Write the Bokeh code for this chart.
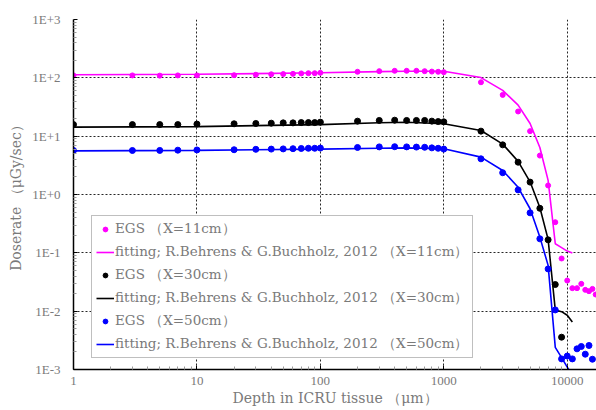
from bokeh.plotting import figure
from bokeh.models import FixedTicker, CustomJSTickFormatter, Legend, LegendItem, Range1d
from bokeh.embed import file_html
from bokeh.resources import INLINE

# ---------------- data ----------------
depth_plateau = [1, 3, 5, 7, 10, 20, 30, 40, 50, 60, 70, 80, 90, 100,
                 200, 300, 400, 500, 600, 700, 800, 900, 1000]

# EGS, X = 11 cm
egs11_x = depth_plateau + [2000, 3000, 4000, 5000, 6000, 7000, 8000, 9000, 10000,
                           11000, 12000, 13000, 14000, 15000, 16000, 17000]
egs11_y = [110, 110, 109, 110, 110, 111, 113, 115, 116, 117, 119, 120, 120, 122,
           127, 130, 132, 132, 132, 130, 128, 127, 125,
           84, 51, 26.5, 12.2, 4.65, 1.43, 0.335, 0.080, 0.0335,
           0.0248, 0.0248, 0.0294, 0.0232, 0.022, 0.0241, 0.0193]

# EGS, X = 30 cm
egs30_x = depth_plateau + [2000, 3000, 4000, 5000, 6000, 7000, 8000, 9000]
egs30_y = [15.8, 15.8, 15.8, 15.8, 16.1, 16.3, 16.5, 16.7, 16.9, 16.9, 17.1, 17.1, 17.1, 17.4,
           18.1, 18.6, 18.8, 18.6, 18.6, 18.6, 18.1, 17.8, 17.6,
           12.2, 7.1, 3.58, 1.63, 0.58, 0.167, 0.0286, 0.00358]

# EGS, X = 50 cm
egs50_x = depth_plateau + [2000, 3000, 4000, 5000, 6000, 7000, 8000, 9000, 10000,
                           11000, 12000, 13000, 14000, 15000, 16000]
egs50_y = [5.68, 5.68, 5.7, 5.75, 5.8, 5.85, 5.95, 6.0, 6.05, 6.1, 6.15, 6.2, 6.2, 6.25,
           6.4, 6.55, 6.6, 6.55, 6.5, 6.45, 6.3, 6.2, 6.0,
           4.09, 2.36, 1.2, 0.485, 0.174, 0.053, 0.0105, 0.00152, 0.0017,
           0.00152, 0.00226, 0.00248, 0.00183, 0.00258, 0.0015]

# fitting curves (R.Behrens & G.Buchholz, 2012)
fit_x = [1, 10, 100, 300, 500, 1000, 2000, 3000, 4000, 5000, 6000, 7000, 8000, 9000, 10000, 11000]
fit11_y = [113, 115, 122, 128, 130, 130, 101, 61, 34, 16.5, 6.4, 1.75, 0.143, 0.123, 0.107, 0.099]
fit30_y = [14.3, 14.6, 15.8, 17.0, 17.3, 16.3, 12.5, 7.3, 3.7, 1.65, 0.6, 0.17, 0.0105, 0.0098, 0.0085, 0.0065]
fit50_y = [5.6, 5.7, 6.0, 6.2, 6.3, 6.07, 4.37, 2.58, 1.33, 0.57, 0.186, 0.061, 0.0024, 0.0016, 0.0011, 0.0008]

x_ticks = [1, 10, 100, 1000, 10000]
y_ticks = [1e-3, 1e-2, 1e-1, 1e0, 1e1, 1e2, 1e3]

labels = ["EGS \uff08X=11cm\uff09",
          "fitting; R.Behrens & G.Buchholz, 2012 \uff08X=11cm\uff09",
          "EGS \uff08X=30cm\uff09",
          "fitting; R.Behrens & G.Buchholz, 2012 \uff08X=30cm\uff09",
          "EGS \uff08X=50cm\uff09",
          "fitting; R.Behrens & G.Buchholz, 2012 \uff08X=50cm\uff09"]

MAG, BLK, BLU = "#ff00ff", "#000000", "#0000ff"
TICK_FONT = "Liberation Serif"
FONT = "DejaVu Serif"
TXT = "#7a7a7a"

# ---------------- figure ----------------
p = figure(width=596, height=410, x_axis_type="log", y_axis_type="log",
           x_range=Range1d(1, 17260), y_range=Range1d(1e-3, 1e3),
           output_backend="svg", toolbar_location=None,
           min_border_left=73, min_border_top=19, min_border_right=0, min_border_bottom=41)
p.outline_line_color = None
p.background_fill_color = "white"

x_minor = [m * d for d in [1, 10, 100, 1000, 10000] for m in range(2, 10)]
y_minor = [m * d for d in [1e-3, 1e-2, 1e-1, 1, 10, 100] for m in range(2, 10)]
p.xaxis.ticker = FixedTicker(ticks=x_ticks, minor_ticks=x_minor)
p.yaxis.ticker = FixedTicker(ticks=y_ticks, minor_ticks=y_minor)
p.xaxis.formatter = CustomJSTickFormatter(code="return Math.round(tick).toString();")
p.yaxis.formatter = CustomJSTickFormatter(
    code="const e = Math.round(Math.log10(tick)); return '1E' + (e >= 0 ? '+' : '-') + Math.abs(e);")

for ax in (p.xaxis[0], p.yaxis[0]):
    ax.axis_line_color = "black"
    ax.axis_line_width = 1.5
    ax.major_tick_in = 4
    ax.major_tick_out = 0
    ax.minor_tick_in = 3
    ax.minor_tick_out = 0
    ax.major_tick_line_color = "black"
    ax.minor_tick_line_color = "#999999"
    ax.major_label_text_font = TICK_FONT
    ax.major_label_text_font_size = "13px"
    ax.major_label_text_color = TXT
    ax.axis_label_text_font = FONT
    ax.axis_label_text_font_size = "14px"
    ax.axis_label_text_font_style = "normal"
    ax.axis_label_text_color = TXT

p.xaxis.axis_label = "Depth in ICRU tissue \uff08\u03bcm\uff09"
p.yaxis.axis_label = "Doserate \uff08\u03bcGy/sec\uff09"
p.xaxis.major_label_standoff = 7
p.xaxis.axis_label_standoff = 2
p.yaxis.major_label_standoff = 13
p.yaxis.axis_label_standoff = 5

for g in (p.xgrid[0], p.ygrid[0]):
    g.grid_line_color = "black"
    g.grid_line_dash = "2 2"
    g.grid_line_width = 1
    g.grid_line_alpha = 0.85

r_f11 = p.line(fit_x, fit11_y, line_color=MAG, line_width=1.6)
r_f30 = p.line(fit_x, fit30_y, line_color=BLK, line_width=1.6)
r_f50 = p.line(fit_x, fit50_y, line_color=BLU, line_width=1.6)
r_e11 = p.scatter(egs11_x, egs11_y, size=5, fill_color=MAG, line_color=MAG)
r_e30 = p.scatter(egs30_x, egs30_y, size=6, fill_color=BLK, line_color=BLK)
r_e50 = p.scatter(egs50_x, egs50_y, size=6, fill_color=BLU, line_color=BLU)

legend = Legend(items=[LegendItem(label=labels[0], renderers=[r_e11]),
                       LegendItem(label=labels[1], renderers=[r_f11]),
                       LegendItem(label=labels[2], renderers=[r_e30]),
                       LegendItem(label=labels[3], renderers=[r_f30]),
                       LegendItem(label=labels[4], renderers=[r_e50]),
                       LegendItem(label=labels[5], renderers=[r_f50])],
                location=(18, 11), padding=4, spacing=5, margin=0,
                glyph_width=18, glyph_height=12, label_height=16, label_standoff=1,
                border_line_color="#808080", border_line_width=1,
                background_fill_color="white", background_fill_alpha=1,
                label_text_font=FONT, label_text_font_size="13.5px", label_text_color=TXT)
p.add_layout(legend)

open("out.html", "w").write(file_html(p, INLINE))
